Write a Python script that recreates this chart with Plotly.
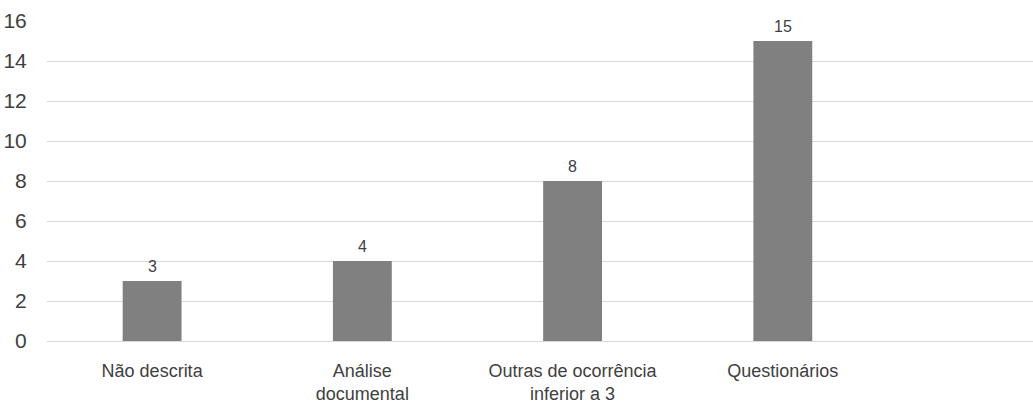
import plotly.graph_objects as go

categories = ["Não descrita", "Análise<br>documental", "Outras de ocorrência<br>inferior a 3", "Questionários"]
values = [3, 4, 8, 15]
y_ticks = [0, 2, 4, 6, 8, 10, 12, 14, 16]

font_family = "Liberation Sans, Arial, sans-serif"
text_color = "#404040"
positions = list(range(len(categories)))

fig = go.Figure(
    go.Bar(
        x=positions,
        y=values,
        marker=dict(color="#808080", line=dict(width=0)),
        width=0.28,
    )
)

# value labels above each bar
for xp, v in zip(positions, values):
    fig.add_annotation(
        x=xp, y=v, text=str(v), showarrow=False,
        yanchor="bottom", yshift=4,
        font=dict(family=font_family, size=16, color=text_color),
    )

fig.update_layout(
    width=1033,
    height=405,
    margin=dict(l=47, r=0, t=21, b=64),
    plot_bgcolor="white",
    paper_bgcolor="white",
    showlegend=False,
    font=dict(family=font_family, color=text_color),
)

fig.update_xaxes(
    tickmode="array",
    tickvals=positions,
    ticktext=categories,
    range=[-0.5, 4.19],
    showgrid=False,
    zeroline=False,
    showline=False,
    tickfont=dict(family=font_family, size=18, color=text_color),
    ticks="outside",
    ticklen=13,
    tickcolor="rgba(0,0,0,0)",
)

fig.update_yaxes(
    range=[0, 16],
    tickvals=y_ticks,
    showgrid=True,
    gridcolor="#d9d9d9",
    gridwidth=1,
    zeroline=True,
    zerolinecolor="#d9d9d9",
    zerolinewidth=1,
    showline=False,
    tickfont=dict(family=font_family, size=21, color=text_color),
    ticks="outside",
    ticklen=15,
    tickcolor="rgba(0,0,0,0)",
)

fig.write_html("out.html")
